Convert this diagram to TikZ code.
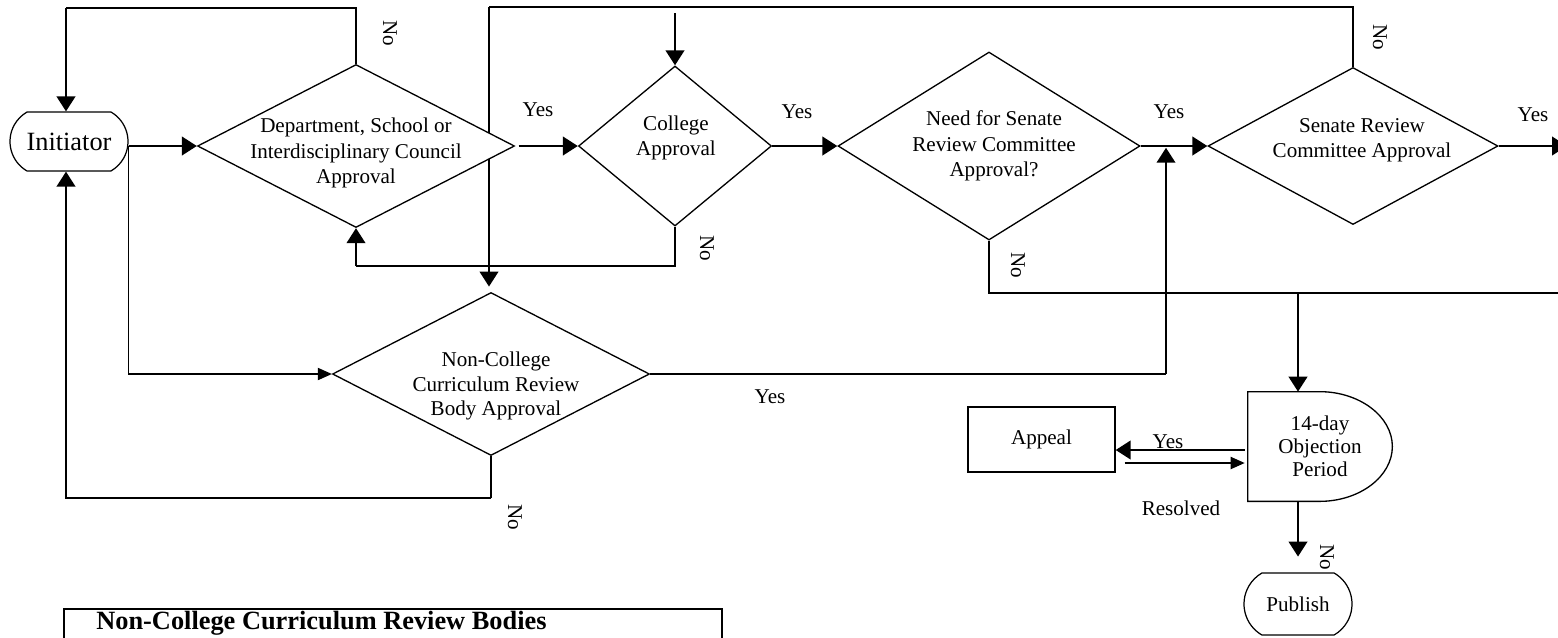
\documentclass[tikz,border=0pt]{standalone}
\usepackage{fontspec}
\setmainfont{Liberation Serif}
\usetikzlibrary{shapes,arrows.meta,calc,backgrounds}
\newcommand{\pxu}{0.02cm}

\begin{document}
\begin{tikzpicture}[x=0.02cm, y=-0.02cm,
    txt/.style={font=\fontsize{12}{14.5}\selectfont, align=center, inner sep=0pt},
    decision/.style 2 args={diamond, draw, line width=0.75pt, fill=white, inner sep=0pt, minimum width=#1*\pxu, minimum height=#2*\pxu},
    terminal/.style={rounded rectangle, rounded rectangle arc length=120, draw, line width=0.7pt, fill=white, inner sep=0pt, txt},
    process/.style={rectangle, draw, line width=0.75pt, fill=white, txt},
    thinline/.style={line width=0.65pt},
    thickline/.style={line width=1.4pt},
    thinarrow/.style={thinline, -{Triangle[length=8pt,width=7pt]}},
    thickarrow/.style={thickline, -{Triangle[length=8.5pt,width=10.5pt]}},
    answer/.style={txt},
    noanswer/.style={txt, rotate=-90}]
    \useasboundingbox (0,0) rectangle (1558,637);
    \clip (0,0) rectangle (1558,637);

    \node[terminal, minimum width=118*\pxu, minimum height=59*\pxu, font=\fontsize{15}{18}\selectfont] (init) at (69,141.5) {Initiator};
    \node[decision={317}{163}] (dept) at (356,146) {};
    \node[txt] (dept-t) at (356,153) {Department, School or\\Interdisciplinary Council\\Approval};
    \node[decision={193}{160}] (college) at (675,146) {};
    \node[txt] (college-t) at (676,138) {College\\Approval};
    \node[decision={302}{188}] (need) at (989,146) {};
    \node[txt] (need-t) at (994,146) {Need for Senate\\Review Committee\\Approval?};
    \node[decision={290}{157}] (senate) at (1353,146) {};
    \node[txt] (senate-t) at (1362,140) {Senate Review\\Committee Approval};
    \node[decision={317}{163}] (noncol) at (491,374) {};
    \node[txt, font=\fontsize{12}{13.8}\selectfont] (noncol-t) at (496,386) {Non-College\\Curriculum Review\\Body Approval};
    \node[txt, minimum width=144*\pxu, minimum height=109*\pxu, font=\fontsize{12}{13}\selectfont] (obj) at (1320,446.5) {14-day\\Objection\\Period};
    \draw[line width=0.75pt] (obj.north west) -- ($(obj.north west)+(72,0)$)
        .. controls ($(obj.north west)+(112,0)$) and ($(obj.east)+(0,-30)$) .. (obj.east)
        .. controls ($(obj.east)+(0,30)$) and ($(obj.south west)+(112,0)$) .. ($(obj.south west)+(72,0)$)
        -- (obj.south west) -- cycle;
    \node[process, minimum width=147*\pxu, minimum height=65*\pxu] (appeal) at (1041.5,439.5) {Appeal};
    \node[terminal, minimum width=108*\pxu, minimum height=62*\pxu] (pub) at (1298,604) {Publish};

    \coordinate (initTop) at (66,8);
    \coordinate (mainTop) at (489,7);
    \coordinate (collegeIn) at (675,13);
    \coordinate (collegeLoop) at (356,266);
    \coordinate (senateOut) at (1567,146);
    \coordinate (needLoop) at (1558,293);
    \coordinate (objIn) at (1298,293);
    \coordinate (noncolJoin) at (1166,374);
    \coordinate (noncolLoop) at (491,498);
    \coordinate (initBottom) at (66,498);

    \draw[thinline] (dept.north) -- (dept.north |- initTop) -- (initTop);
    \draw[thickarrow] (initTop) -- (initTop |- init.north);
    \draw[thickarrow] (init.east |- dept.west) -- (dept.west);
    \draw[thinarrow] (init.east |- dept.west) |- (noncol.west);
    \draw[thickarrow, shorten <=2pt] (dept.east) -- (college.west);
    \draw[thickarrow] (college.east) -- (need.west);
    \draw[thickarrow] (need.east) -- (senate.west);
    \draw[thickarrow] (senate.east) -- (senateOut);
    \draw[thinline] (senate.north) -- (senate.north |- mainTop) -- (mainTop);
    \begin{scope}[on background layer]
        \draw[thickarrow, shorten >=3pt] (mainTop) -- (mainTop |- noncol.north);
    \end{scope}
    \draw[thickarrow] (collegeIn) -- (college.north);
    \draw[thinline] (college.south) |- (collegeLoop);
    \draw[thickarrow] (collegeLoop) -- (dept.south);
    \draw[thinline] (need.south) |- (needLoop);
    \draw[thickarrow] (objIn) -- (objIn |- obj.north);
    \draw[thinline] (noncol.east) -- (noncolJoin);
    \draw[thickarrow, shorten >=1pt] (noncolJoin) -- (noncolJoin |- need.east);
    \draw[thinline] (noncol.south) -- (noncolLoop);
    \draw[thickarrow] (noncolLoop) -- (initBottom) -- (initBottom |- init.south);
    \draw[thickarrow] ($(obj.west)+(-3,3.5)$) -- ($(appeal.east)+(0,10.5)$);
    \draw[thinarrow] ($(appeal.east)+(9,23.5)$) -- ($(obj.west)+(-3,16.5)$);
    \draw[thickarrow, shorten >=9pt] (objIn |- obj.south) -- (pub.north);

    \node[answer] (yes1) at (538,110) {Yes};
    \node[answer] (yes2) at (797,112) {Yes};
    \node[answer] (yes3) at (1169,112) {Yes};
    \node[answer] (yes4) at (1533,115) {Yes};
    \node[answer] (yes5) at (770,397) {Yes};
    \node[answer] (yes6) at (1168,442) {Yes};
    \node[answer] (resolved) at (1181,508) {Resolved};
    \node[noanswer] (no1) at (390,33) {No};
    \node[noanswer] (no2) at (707,248) {No};
    \node[noanswer] (no3) at (1380,37) {No};
    \node[noanswer] (no4) at (1018,265) {No};
    \node[noanswer] (no5) at (515,517) {No};
    \node[noanswer] (no6) at (1327,557) {No};

    \node[draw, line width=1pt, anchor=north west, minimum width=658*\pxu, minimum height=100*\pxu] (bodies) at (63,608) {};
    \node[anchor=base west, inner sep=0pt, font=\bfseries\fontsize{15}{18}\selectfont] (bodies-t) at (96,629) {Non-College Curriculum Review Bodies};
\end{tikzpicture}
\end{document}
